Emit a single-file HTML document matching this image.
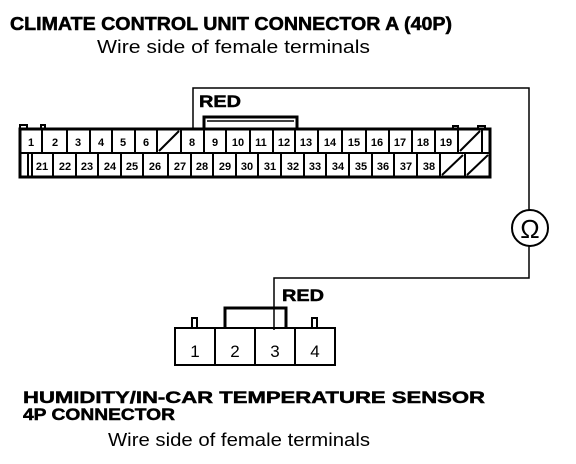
<!DOCTYPE html>
<html><head><meta charset="utf-8"><style>
html,body{margin:0;padding:0;background:#fff}
svg{display:block}
text{font-family:"Liberation Sans",sans-serif;fill:#000}
.b{font-weight:bold;stroke:#000;stroke-width:0.5}
.n{font-weight:bold;font-size:11px}
</style></head><body>
<svg width="576" height="464" viewBox="0 0 576 464" xmlns="http://www.w3.org/2000/svg">
<text x="10" y="30" class="b" font-size="18" textLength="442" lengthAdjust="spacingAndGlyphs">CLIMATE CONTROL UNIT CONNECTOR A (40P)</text>
<text x="97" y="53" font-size="18" textLength="273" lengthAdjust="spacingAndGlyphs">Wire side of female terminals</text>

<polyline points="193,130 193,88 529,88 529,210" fill="none" stroke="#000" stroke-width="1.5"/>
<circle cx="530" cy="228" r="18" fill="#fff" stroke="#000" stroke-width="2"/>
<text x="530" y="238" font-size="26" text-anchor="middle">Ω</text>
<polyline points="529,246 529,278 274,278 274,330" fill="none" stroke="#000" stroke-width="1.5"/>
<text x="199" y="107" class="b" font-size="17" textLength="42" lengthAdjust="spacingAndGlyphs">RED</text>
<text x="282" y="301" class="b" font-size="17" textLength="42" lengthAdjust="spacingAndGlyphs">RED</text>

<g stroke="#000" fill="none">
<rect x="20" y="129" width="470" height="48" stroke-width="3"/>
<line x1="20" y1="153" x2="490" y2="153" stroke-width="2"/>
<path d="M20,129 V125 H27 V129 M41,129 V125 H45 V129" stroke-width="2"/>
<path d="M204,129 V117 H297 V129" stroke-width="3"/>
<line x1="207" y1="121" x2="294" y2="121" stroke-width="1.5"/>
<path d="M453,129 V126 H458 V129 M478,129 V126 H485 V129" stroke-width="2"/>
<g stroke-width="2">
<line x1="42" y1="129" x2="42" y2="153"/><line x1="67" y1="129" x2="67" y2="153"/>
<line x1="90" y1="129" x2="90" y2="153"/><line x1="112" y1="129" x2="112" y2="153"/>
<line x1="135" y1="129" x2="135" y2="153"/><line x1="157" y1="129" x2="157" y2="153"/>
<line x1="181" y1="129" x2="181" y2="153"/><line x1="204" y1="129" x2="204" y2="153"/>
<line x1="226" y1="129" x2="226" y2="153"/><line x1="250" y1="129" x2="250" y2="153"/>
<line x1="273" y1="129" x2="273" y2="153"/><line x1="295" y1="129" x2="295" y2="153"/>
<line x1="318" y1="129" x2="318" y2="153"/><line x1="342" y1="129" x2="342" y2="153"/>
<line x1="366" y1="129" x2="366" y2="153"/><line x1="389" y1="129" x2="389" y2="153"/>
<line x1="412" y1="129" x2="412" y2="153"/><line x1="435" y1="129" x2="435" y2="153"/>
<line x1="458" y1="129" x2="458" y2="153"/><line x1="482" y1="129" x2="482" y2="153"/>
<line x1="159" y1="151" x2="179" y2="131"/><line x1="460" y1="151" x2="480" y2="131"/>
<line x1="28" y1="153" x2="28" y2="177"/>
<line x1="32" y1="153" x2="32" y2="177"/><line x1="53" y1="153" x2="53" y2="177"/>
<line x1="76" y1="153" x2="76" y2="177"/><line x1="98" y1="153" x2="98" y2="177"/>
<line x1="121" y1="153" x2="121" y2="177"/><line x1="143" y1="153" x2="143" y2="177"/>
<line x1="168" y1="153" x2="168" y2="177"/><line x1="191" y1="153" x2="191" y2="177"/>
<line x1="213" y1="153" x2="213" y2="177"/><line x1="236" y1="153" x2="236" y2="177"/>
<line x1="258" y1="153" x2="258" y2="177"/><line x1="281" y1="153" x2="281" y2="177"/>
<line x1="304" y1="153" x2="304" y2="177"/><line x1="326" y1="153" x2="326" y2="177"/>
<line x1="349" y1="153" x2="349" y2="177"/><line x1="372" y1="153" x2="372" y2="177"/>
<line x1="394" y1="153" x2="394" y2="177"/><line x1="417" y1="153" x2="417" y2="177"/>
<line x1="440" y1="153" x2="440" y2="177"/><line x1="465" y1="153" x2="465" y2="177"/>
<line x1="442" y1="175" x2="463" y2="155"/><line x1="467" y1="175" x2="488" y2="155"/>
</g>
</g>
<g text-anchor="middle">
<text x="31" y="146" class="n">1</text><text x="55" y="146" class="n">2</text>
<text x="78" y="146" class="n">3</text><text x="101" y="146" class="n">4</text>
<text x="123" y="146" class="n">5</text><text x="146" y="146" class="n">6</text>
<text x="192" y="146" class="n">8</text><text x="215" y="146" class="n">9</text>
<text x="238" y="146" class="n">10</text><text x="261" y="146" class="n">11</text>
<text x="284" y="146" class="n">12</text><text x="306" y="146" class="n">13</text>
<text x="330" y="146" class="n">14</text><text x="354" y="146" class="n">15</text>
<text x="377" y="146" class="n">16</text><text x="400" y="146" class="n">17</text>
<text x="423" y="146" class="n">18</text><text x="446" y="146" class="n">19</text>
<text x="42" y="170" class="n">21</text><text x="65" y="170" class="n">22</text>
<text x="87" y="170" class="n">23</text><text x="110" y="170" class="n">24</text>
<text x="132" y="170" class="n">25</text><text x="155" y="170" class="n">26</text>
<text x="180" y="170" class="n">27</text><text x="202" y="170" class="n">28</text>
<text x="225" y="170" class="n">29</text><text x="247" y="170" class="n">30</text>
<text x="270" y="170" class="n">31</text><text x="293" y="170" class="n">32</text>
<text x="315" y="170" class="n">33</text><text x="338" y="170" class="n">34</text>
<text x="361" y="170" class="n">35</text><text x="383" y="170" class="n">36</text>
<text x="406" y="170" class="n">37</text><text x="429" y="170" class="n">38</text>
</g>

<g stroke="#000" fill="none" stroke-width="2">
<rect x="175" y="328" width="160" height="37"/>
<line x1="215" y1="328" x2="215" y2="365"/><line x1="255" y1="328" x2="255" y2="365"/>
<line x1="295" y1="328" x2="295" y2="365"/>
<path d="M225,328 V308 H286 V328" stroke-width="3"/>
<path d="M192,328 V318 H197 V328 M312,328 V318 H317 V328"/>
</g>
<text x="195" y="357" font-size="17" text-anchor="middle">1</text>
<text x="235" y="357" font-size="17" text-anchor="middle">2</text>
<text x="275" y="357" font-size="17" text-anchor="middle">3</text>
<text x="315" y="357" font-size="17" text-anchor="middle">4</text>

<text x="23" y="403" class="b" font-size="17" textLength="462" lengthAdjust="spacingAndGlyphs">HUMIDITY/IN-CAR TEMPERATURE SENSOR</text>
<text x="23" y="420" class="b" font-size="17" textLength="152" lengthAdjust="spacingAndGlyphs">4P CONNECTOR</text>
<text x="108" y="446" font-size="18" textLength="262" lengthAdjust="spacingAndGlyphs">Wire side of female terminals</text>
</svg>
</body></html>
